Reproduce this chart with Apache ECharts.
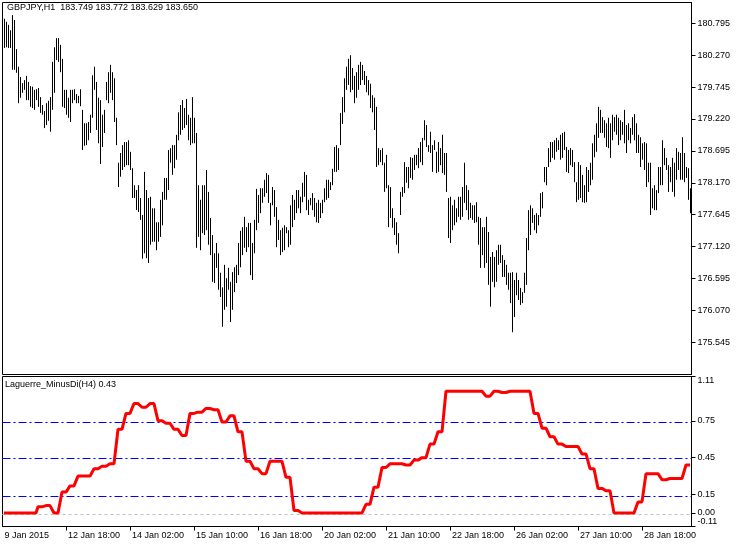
<!DOCTYPE html>
<html><head><meta charset="utf-8">
<script src="https://cdn.jsdelivr.net/npm/echarts@6/dist/echarts.min.js"></script>
<style>html,body{margin:0;padding:0;background:#fff}#c{width:743px;height:547px}</style>
</head><body><div id="c"></div>
<script>
const symbolName = 'GBPJPY,H1';
const lastQuote = [183.749, 183.772, 183.629, 183.650];
const indicatorName = 'Laguerre_MinusDi(H4)';
const indicatorLast = 0.43;
const firstBar = [2015, 0, 9, 11]; // 9 Jan 2015 11:00, hourly bars, no weekends
const monthNames = ['Jan','Feb','Mar','Apr','May','Jun','Jul','Aug','Sep','Oct','Nov','Dec'];
const priceTicks = [175.545, 176.070, 176.595, 177.120, 177.645, 178.170, 178.695, 179.220, 179.745, 180.270, 180.795];
const priceMin = 175.015, priceMax = 181.137;
const indMidTicks = [0, 0.15, 0.45, 0.75];
const indMin = -0.11, indMax = 1.11;
const blueLevels = [0.15, 0.45, 0.75];
const zeroLevel = [0];

const high = [
180.87,180.82,180.77,180.68,180.93,180.85,180.37,180.08,179.91,179.81,
179.86,179.93,179.83,179.76,179.75,179.70,179.71,179.73,179.58,179.45,
179.35,179.48,179.52,179.58,180.16,180.40,180.55,180.55,180.44,180.21,
179.70,179.70,179.57,179.70,179.70,179.71,179.63,179.60,179.71,179.37,
179.15,179.15,179.17,179.29,179.94,180.08,179.83,179.57,179.53,179.29,
179.37,179.83,179.99,180.11,179.99,179.89,179.24,178.50,178.66,178.79,
178.84,178.84,178.87,178.68,178.41,178.13,178.05,178.13,177.92,177.64,
178.35,178.05,177.92,177.94,177.75,177.75,177.52,177.52,177.89,178.02,
178.25,178.25,178.71,178.74,178.79,178.79,178.96,179.33,179.45,179.53,
179.40,179.55,179.29,179.24,179.58,179.24,178.99,178.13,177.89,178.13,
178.13,178.38,178.02,177.59,177.31,177.01,177.18,177.01,176.69,176.45,
176.82,176.60,176.77,176.54,176.70,176.78,176.82,177.18,177.38,177.44,
177.61,177.44,177.51,177.51,177.18,177.56,178.07,177.97,178.08,178.08,
178.22,178.33,178.30,177.84,178.10,178.05,177.77,177.56,177.39,177.43,
177.47,177.44,177.39,177.80,177.97,177.89,178.05,178.05,177.94,178.17,
178.35,178.30,177.89,177.92,178.00,177.92,177.84,177.89,177.84,177.89,
178.08,178.22,178.22,178.18,178.40,178.76,178.79,178.74,179.32,179.58,
179.89,180.08,180.21,180.27,180.06,179.93,179.99,180.11,180.16,180.11,
180.01,179.93,179.86,179.80,179.61,179.57,179.42,178.74,178.71,178.74,
178.50,178.63,178.13,178.10,177.75,177.59,177.52,177.34,178.02,178.10,
178.51,178.43,178.43,178.59,178.58,178.63,178.63,178.74,178.84,178.91,
179.20,179.12,178.79,179.01,178.79,178.87,178.68,178.84,178.74,178.96,
178.66,178.66,177.92,177.94,177.80,177.89,177.75,177.94,177.94,178.10,
178.50,178.13,178.05,177.84,177.80,177.80,177.85,177.61,177.59,177.44,
177.44,177.61,177.36,176.95,177.03,176.95,177.06,177.15,177.15,176.98,
176.90,176.82,176.69,176.69,176.70,176.57,176.69,176.57,176.44,176.37,
176.69,177.26,177.72,177.80,177.75,177.64,177.67,177.64,178.00,178.02,
178.43,178.43,178.74,178.84,178.84,178.87,178.91,178.87,178.96,178.99,
179.01,178.76,178.71,178.74,178.71,178.51,178.18,178.51,178.46,178.30,
178.13,178.43,178.38,178.50,178.82,178.96,179.15,179.42,179.37,179.25,
179.20,179.15,179.24,179.15,179.29,179.25,179.29,179.24,179.20,179.17,
179.37,179.12,179.15,179.07,179.25,179.30,179.15,178.96,178.92,178.82,
178.84,178.82,178.50,178.50,178.08,178.13,178.05,178.43,178.43,178.87,
178.74,178.58,178.46,178.43,178.58,178.50,178.74,178.68,178.66,178.92,
178.66,178.43,178.41,178.08
];
const low = [
180.39,180.40,180.39,180.39,180.03,180.03,179.98,179.48,179.57,179.65,
179.70,179.53,179.53,179.42,179.40,179.37,179.53,179.42,179.32,179.29,
179.07,179.12,179.19,179.01,179.37,179.65,180.19,180.16,179.99,179.42,
179.40,179.29,179.24,179.17,179.48,179.53,179.48,179.48,179.43,178.71,
178.78,178.79,178.87,178.99,179.24,179.70,179.04,178.82,178.48,178.76,
178.99,179.53,179.48,179.65,179.53,179.17,178.79,178.10,178.27,178.38,
178.43,178.46,178.46,178.38,177.92,177.92,177.72,177.69,177.56,176.92,
177.01,176.93,176.85,177.15,177.20,177.20,177.06,177.20,177.28,177.47,
177.89,177.89,178.05,178.50,178.30,178.41,178.55,178.87,178.96,179.04,
179.07,179.12,178.87,178.79,178.82,178.82,177.10,177.28,177.06,177.34,
177.31,177.39,177.15,176.98,176.54,176.52,176.77,176.41,176.29,175.80,
176.08,176.13,176.41,175.88,176.08,176.37,176.52,176.65,176.78,176.98,
177.10,177.03,177.11,176.65,176.57,177.01,177.39,177.51,177.67,177.84,
177.94,178.00,177.84,177.47,177.80,177.61,177.11,177.23,176.98,177.03,
177.06,177.34,177.11,177.15,177.44,177.56,177.67,177.75,177.67,177.85,
177.94,177.72,177.64,177.80,177.72,177.61,177.52,177.51,177.59,177.67,
177.85,177.89,177.92,178.05,178.13,178.35,178.35,178.38,178.79,179.14,
179.33,179.70,179.78,179.66,179.70,179.48,179.57,179.70,179.78,179.86,
179.78,179.66,179.61,179.40,179.33,179.04,178.43,178.46,178.51,178.46,
178.02,178.08,177.44,177.59,177.43,177.31,177.15,177.01,177.64,177.94,
178.00,178.17,178.08,178.25,178.22,178.38,178.46,178.41,178.51,178.46,
178.87,178.76,178.68,178.66,178.35,178.71,178.33,178.35,178.46,178.33,
178.30,178.02,177.26,177.18,177.39,177.47,177.52,177.61,177.56,177.61,
177.84,177.72,177.56,177.59,177.56,177.51,177.52,177.15,176.77,176.98,
176.77,176.85,176.49,176.13,176.54,176.45,176.54,176.82,176.85,176.62,
176.62,176.49,176.41,176.19,175.71,175.96,176.32,176.24,176.16,176.19,
176.36,176.49,177.06,177.31,177.51,177.39,177.34,177.47,177.61,177.75,
178.18,178.13,178.43,178.51,178.58,178.55,178.68,178.71,178.55,178.58,
178.71,178.35,178.33,178.46,178.43,178.18,177.85,177.89,177.92,177.85,
177.84,177.85,178.02,178.13,178.22,178.59,178.68,178.91,178.99,178.99,
178.91,178.76,178.74,178.58,178.87,179.01,178.96,178.79,178.87,178.96,
178.82,178.66,178.87,178.82,178.96,178.87,178.66,178.66,178.43,178.55,
178.38,178.10,178.18,177.64,177.75,177.72,177.72,178.00,178.13,178.13,
178.46,178.38,178.02,178.18,178.02,177.94,178.22,178.38,178.22,178.22,
178.18,178.25,177.89,177.67
];
const minusDi = [
0,
0,0,0,0, 0,0,0,0, 0,0,0,0, 0,0,0,0,
0.05,0.05,0.05,0.05, 0.06,0.06,0.06,0.06, 0,0,0,0, 0.17,0.17,0.17,0.17,
0.22,0.22,0.22,0.22, 0.30,0.30,0.30,0.30, 0.30,0.30,0.30,0.30, 0.36,0.36,0.36,0.36,
0.38,0.38,0.38,0.38, 0.40,0.40,0.40,0.40, 0.68,0.68,0.68,0.68, 0.81,0.81,0.81,0.81,
0.89,0.89,0.89,0.89, 0.86,0.86,0.86,0.86, 0.89,0.89,0.89,0.89, 0.75,0.75,0.75,0.75,
0.73,0.73,0.73,0.73, 0.68,0.68,0.68,0.68, 0.63,0.63,0.63,0.63, 0.81,0.81,0.81,0.81,
0.82,0.82,0.82,0.82, 0.85,0.85,0.85,0.85, 0.84,0.84,0.84,0.84, 0.74,0.74,0.74,0.74,
0.79,0.79,0.79,0.79, 0.66,0.66,0.66,0.66, 0.42,0.42,0.42,0.42, 0.36,0.36,0.36,0.36,
0.32,0.32,0.32,0.32, 0.42,0.42,0.42,0.42, 0.42,0.42,0.42,0.42, 0.29,0.29,0.29,0.29,
0.02,0.02,0.02,0.02, 0,0,0,0, 0,0,0,0, 0,0,0,0,
0,0,0,0, 0,0,0,0, 0,0,0,0, 0,0,0,0,
0,0,0,0, 0.07,0.07,0.07,0.07, 0.21,0.21,0.21,0.21, 0.37,0.37,0.37,0.37,
0.40,0.40,0.40,0.40, 0.40,0.40,0.40,0.40, 0.39,0.39,0.39,0.39, 0.43,0.43,0.43,0.43,
0.45,0.45,0.45,0.45, 0.56,0.56,0.56,0.56, 0.66,0.66,0.66,0.66, 0.99,0.99,0.99,0.99,
0.99,0.99,0.99,0.99, 0.99,0.99,0.99,0.99, 0.99,0.99,0.99,0.99, 0.99,0.99,0.99,0.99,
0.95,0.95,0.95,0.95, 0.99,0.99,0.99,0.99, 0.98,0.98,0.98,0.98, 0.99,0.99,0.99,0.99,
0.99,0.99,0.99,0.99, 0.99,0.99,0.99,0.99, 0.81,0.81,0.81,0.81, 0.69,0.69,0.69,0.69,
0.62,0.62,0.62,0.62, 0.56,0.56,0.56,0.56, 0.54,0.54,0.54,0.54, 0.54,0.54,0.54,0.54,
0.48,0.48,0.48,0.48, 0.36,0.36,0.36,0.36, 0.20,0.20,0.20,0.20, 0.18,0.18,0.18,0.18,
0,0,0,0, 0,0,0,0, 0,0,0,0, 0.09,0.09,0.09,0.09,
0.32,0.32,0.32,0.32, 0.32,0.32,0.32,0.32, 0.27,0.27,0.27,0.27, 0.28,0.28,0.28,0.28,
0.28,0.28,0.28,0.28,
0.39,0.39,0.39
];

// hourly time labels (Mon-Fri)
const pad = n => (n < 10 ? '0' : '') + n;
const categories = [];
let t = Date.UTC(firstBar[0], firstBar[1], firstBar[2], firstBar[3]);
while (categories.length < high.length) {
  const d = new Date(t);
  const wd = d.getUTCDay();
  if (wd !== 0 && wd !== 6) {
    categories.push(categories.length === 0
      ? d.getUTCDate() + ' ' + monthNames[d.getUTCMonth()] + ' ' + d.getUTCFullYear()
      : d.getUTCDate() + ' ' + monthNames[d.getUTCMonth()] + ' ' + pad(d.getUTCHours()) + ':00');
  }
  t += 3600000;
}
// bar index axis: bars sit at integer positions
const xMin = -0.75, xMax = high.length - 0.25;
const tickIdx = [];
for (let i = 31; i < high.length; i += 32) tickIdx.push(i);
const labelIdx = [xMin].concat(tickIdx);
const labelFor = v => categories[Math.max(0, Math.round(v))];

const FONT = "'Liberation Sans', Arial, sans-serif";
const txt = {fontFamily: FONT, fontSize: 9, color: '#000'};

// horizontal level lines drawn through the indicator's y scale (pixel-snapped)
const snapRow = y => { let r = Math.round(y); if (r % 2) r += 1; return r + 0.5; };
const levelSeries = (values, color, dash, z) => ({
  type: 'custom', xAxisIndex: 1, yAxisIndex: 1, z: z, silent: true, clip: true,
  data: values.map(v => [0, v]),
  encode: {x: 0, y: 1},
  renderItem: (params, api) => {
    const cs = params.coordSys;
    const y = snapRow(api.coord([api.value(0), api.value(1)])[1]);
    return {type: 'line', shape: {x1: cs.x, y1: y, x2: cs.x + cs.width, y2: y},
            style: {stroke: color, lineWidth: 1, lineDash: dash, fill: null}};
  }
});

const yBase = (gridIndex, extra) => Object.assign({
  type: 'value', gridIndex: gridIndex, position: 'right', splitLine: {show: false}
}, extra);

const chart = echarts.init(document.getElementById('c'), null, {renderer: 'canvas'});
const option = {
  animation: false,
  backgroundColor: '#fff',
  title: [
    {text: symbolName + '  ' + lastQuote.map(v => v.toFixed(3)).join(' '), left: 7, top: 3, padding: 0,
     textStyle: Object.assign({fontWeight: 'normal'}, txt)},
    {text: indicatorName + ' ' + indicatorLast.toFixed(2), left: 5, top: 380, padding: 0,
     textStyle: Object.assign({fontWeight: 'normal'}, txt)}
  ],
  grid: [
    {left: 2.5, right: 51.5, top: 2.5, height: 372, show: true, borderColor: '#000', borderWidth: 1, backgroundColor: 'transparent'},
    {left: 2.5, right: 51.5, top: 376.5, height: 150, show: true, borderColor: '#000', borderWidth: 1, backgroundColor: 'transparent'}
  ],
  xAxis: [
    {type: 'value', gridIndex: 0, min: xMin, max: xMax,
     axisLine: {show: false, onZero: false}, axisTick: {show: false}, axisLabel: {show: false}, splitLine: {show: false}},
    {type: 'value', gridIndex: 1, min: xMin, max: xMax,
     axisLine: {show: true, onZero: false, lineStyle: {color: '#000', width: 1}},
     axisTick: {show: true, customValues: tickIdx, length: 4, lineStyle: {color: '#000'}},
     axisLabel: Object.assign({customValues: labelIdx, formatter: labelFor, align: 'left', margin: 5, padding: [0, 0, 0, 2]}, txt),
     splitLine: {show: false}}
  ],
  yAxis: [
    yBase(0, {min: priceMin, max: priceMax, scale: true,
     axisLine: {show: true, onZero: false, lineStyle: {color: '#000'}},
     axisTick: {show: true, length: 4, customValues: priceTicks, lineStyle: {color: '#000'}},
     axisLabel: Object.assign({customValues: priceTicks, margin: 6, formatter: v => v.toFixed(3)}, txt)}),
    yBase(1, {min: indMin, max: indMax,
     axisLine: {show: true, onZero: false, lineStyle: {color: '#000'}},
     axisTick: {show: true, length: 4, customValues: indMidTicks, lineStyle: {color: '#000'}},
     axisLabel: Object.assign({customValues: indMidTicks, margin: 6, formatter: v => v.toFixed(2)}, txt)}),
    yBase(1, {min: indMin, max: indMax,
     axisLine: {show: false, onZero: false},
     axisTick: {show: true, length: 4, customValues: [indMax], lineStyle: {color: '#000'}},
     axisLabel: Object.assign({customValues: [indMax], margin: 6, verticalAlign: 'top', formatter: v => v.toFixed(2)}, txt)}),
    yBase(1, {min: indMin, max: indMax,
     axisLine: {show: false, onZero: false},
     axisTick: {show: true, length: 4, customValues: [indMin], lineStyle: {color: '#000'}},
     axisLabel: Object.assign({customValues: [indMin], margin: 6, verticalAlign: 'bottom', formatter: v => v.toFixed(2)}, txt)})
  ],
  series: [
    {
      type: 'custom', xAxisIndex: 0, yAxisIndex: 0, silent: true, clip: true,
      data: high.map((h, i) => [i, low[i], h]),
      encode: {x: 0, y: [1, 2]},
      renderItem: (params, api) => {
        const lo = api.coord([api.value(0), api.value(1)]);
        const hi = api.coord([api.value(0), api.value(2)]);
        const x = Math.floor(lo[0] + 0.25) + 0.5;
        return {type: 'line', shape: {x1: x, y1: lo[1], x2: x, y2: hi[1]},
                style: {stroke: '#000', lineWidth: 1}};
      }
    },
    levelSeries(zeroLevel, '#c0c0c0', [3, 3], 1),
    levelSeries(blueLevels, '#0000ff', [8, 3, 2, 3], 2),
    {
      type: 'line', xAxisIndex: 1, yAxisIndex: 1, data: minusDi.map((v, i) => [i, v]), z: 3, silent: true,
      showSymbol: false, symbol: 'none', color: '#ff0000',
      lineStyle: {color: '#ff0000', width: 3}
    }
  ]
};
chart.setOption(option);
</script>
</body></html>
